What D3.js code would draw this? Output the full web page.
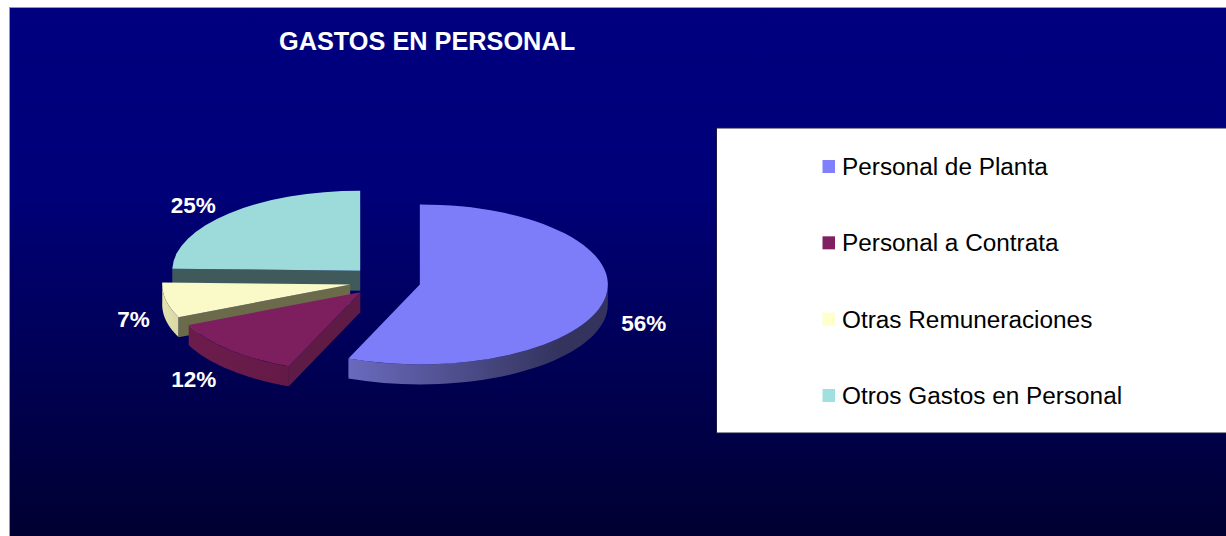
<!DOCTYPE html>
<html><head><meta charset="utf-8">
<script src="https://cdn.jsdelivr.net/npm/d3@7/dist/d3.min.js"></script>
<style>html,body{margin:0;padding:0;background:#fff;overflow:hidden}svg{display:block}text{font-family:"Liberation Sans",Arial,sans-serif}</style>
</head><body><svg id="c" width="1226" height="536"></svg>
<script>
const categories = ["Personal de Planta","Personal a Contrata","Otras Remuneraciones","Otros Gastos en Personal"];
const values = [56.2,12.1,7.1,24.6];
const labels = ["56%","12%","7%","25%"];
const colors = ["#8080ff","#802060","#ffffcc","#a0e0e0"];
const title = "GASTOS EN PERSONAL";

const W=1226,H=536, cx=385, cy=281.5, rx=188, ry=80, depth=20, explode=35.5;
const svg=d3.select("#c");
const defs=svg.append("defs");
const bg=defs.append("linearGradient").attr("id","bg").attr("x1",0).attr("y1",0).attr("x2",0).attr("y2",1);
bg.append("stop").attr("offset",0).attr("stop-color","#000080");
bg.append("stop").attr("offset",0.35).attr("stop-color","#000078");
bg.append("stop").attr("offset",1).attr("stop-color","#000030");

svg.append("rect").attr("x",9.5).attr("y",7.5).attr("width",W).attr("height",H)
  .attr("fill","url(#bg)").attr("stroke","#9a9a9a").attr("stroke-width",1);
svg.append("text").attr("x",279).attr("y",50).attr("fill","#fff").attr("font-weight","bold").attr("font-size",25.3).text(title);

const arcs=d3.pie().sort(null).value(d=>d)(values);
const pt=(c,a,dz=0)=>[c.x+rx*Math.sin(a), c.y-ry*Math.cos(a)+dz];
const line=d3.line();
arcs.forEach(d=>{const m=(d.startAngle+d.endAngle)/2;
  d.c={x:cx+explode*Math.sin(m), y:cy-explode*ry/rx*Math.cos(m), m};});

function wallGrad(id,c0,c1,x0,x1){
  const g=defs.append("linearGradient").attr("id",id).attr("gradientUnits","userSpaceOnUse")
    .attr("x1",x0).attr("x2",x1).attr("y1",0).attr("y2",0);
  g.append("stop").attr("offset",0).attr("stop-color",c0);
  g.append("stop").attr("offset",1).attr("stop-color",c1);
  return `url(#${id})`;
}
const g=svg.append("g");
function outerWall(d,a0,a1,fill){
  const pts=d3.range(0,41).map(i=>pt(d.c,a0+(a1-a0)*i/40));
  const low=pts.map(p=>[p[0],p[1]+depth]).reverse();
  g.append("path").attr("d",line(pts.concat(low))+"Z").attr("fill",fill);
}
function radialWall(d,a,fill){
  const p=pt(d.c,a), o=[d.c.x,d.c.y];
  g.append("path").attr("d",line([o,p,[p[0],p[1]+depth],[o[0],o[1]+depth]])+"Z").attr("fill",fill);
}
function topFace(d,i){
  const f=d3.color(colors[i]).darker(0.06);
  const a=d3.arc().innerRadius(0).outerRadius(rx);
  g.append("path").attr("transform",`translate(${d.c.x},${d.c.y}) scale(1,${ry/rx})`)
   .attr("d",a(d)).attr("fill",f);
}
const [blue,red,yellow,teal]=arcs;
// back to front
radialWall(teal,teal.startAngle,"#405a5c");
topFace(teal,3);
outerWall(yellow,yellow.startAngle,yellow.endAngle,wallGrad("gy","#e6e4ae","#d8d6a0",160,182));
radialWall(yellow,yellow.startAngle,"#6b6b4c");
topFace(yellow,2);
outerWall(red,red.startAngle,red.endAngle,wallGrad("gr","#6c1c4c","#641a46",188,290));
radialWall(red,red.startAngle,"#5e1b45");
topFace(red,1);
outerWall(blue,Math.PI/2,blue.endAngle,wallGrad("gb","#6a6abe","#33335e",349,560));
topFace(blue,0);

// value labels
const labelK=1.2, nudge=[[2.5,20],[-9.5,18],[4.5,16],[-9.5,4]];
arcs.forEach((d,i)=>{
  svg.append("text").attr("text-anchor","middle").attr("dominant-baseline","central")
    .attr("x",d.c.x+labelK*rx*Math.sin(d.c.m)+nudge[i][0])
    .attr("y",d.c.y-labelK*ry*Math.cos(d.c.m)+nudge[i][1])
    .attr("fill","#fff").attr("font-weight","bold").attr("font-size",22.5).text(labels[i]);
});

// legend
svg.append("rect").attr("x",716.5).attr("y",128).attr("width",W).attr("height",305)
  .attr("fill","#fff").attr("stroke","#1a1a40").attr("stroke-width",1);
const ly=d3.scalePoint().domain(categories).range([166.5,395.5]);
categories.forEach((c,i)=>{
  svg.append("rect").attr("x",822.5).attr("y",ly(c)-6.5).attr("width",12.5).attr("height",13).attr("fill",colors[i]);
  svg.append("text").attr("x",842).attr("y",ly(c)+8.5).attr("fill","#000").attr("font-size",24.35).text(c);
});
</script></body></html>
